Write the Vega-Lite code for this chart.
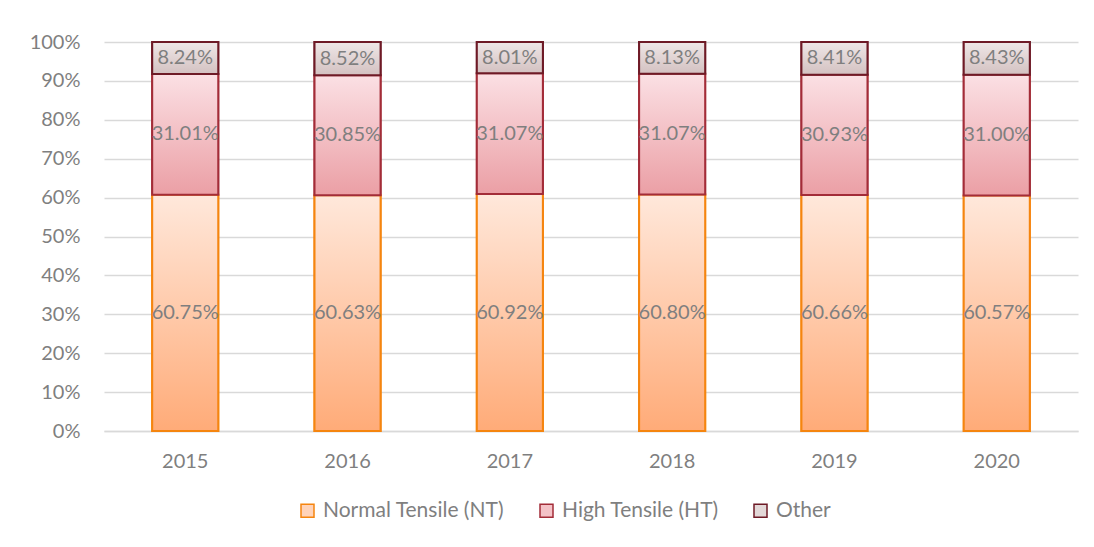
{
  "$schema": "https://vega.github.io/schema/vega-lite/v6.json",
  "width": 974,
  "height": 389,
  "autosize": "none",
  "padding": {"left": 104, "top": 42, "right": 16, "bottom": 116},
  "background": "white",
  "config": {
    "view": {"stroke": null},
    "font": "Lato",
    "axis": {"labelFont": "Lato", "labelColor": "#7f7f7f", "labelFontSize": 20, "title": null, "ticks": false}
  },
  "data": {
    "values": [
      {"year": "2015", "type": "Normal Tensile (NT)", "value": 0.6075},
      {"year": "2015", "type": "High Tensile (HT)", "value": 0.3101},
      {"year": "2015", "type": "Other", "value": 0.0824},
      {"year": "2016", "type": "Normal Tensile (NT)", "value": 0.6063},
      {"year": "2016", "type": "High Tensile (HT)", "value": 0.3085},
      {"year": "2016", "type": "Other", "value": 0.0852},
      {"year": "2017", "type": "Normal Tensile (NT)", "value": 0.6092},
      {"year": "2017", "type": "High Tensile (HT)", "value": 0.3107},
      {"year": "2017", "type": "Other", "value": 0.0801},
      {"year": "2018", "type": "Normal Tensile (NT)", "value": 0.6080},
      {"year": "2018", "type": "High Tensile (HT)", "value": 0.3107},
      {"year": "2018", "type": "Other", "value": 0.0813},
      {"year": "2019", "type": "Normal Tensile (NT)", "value": 0.6066},
      {"year": "2019", "type": "High Tensile (HT)", "value": 0.3093},
      {"year": "2019", "type": "Other", "value": 0.0841},
      {"year": "2020", "type": "Normal Tensile (NT)", "value": 0.6057},
      {"year": "2020", "type": "High Tensile (HT)", "value": 0.3100},
      {"year": "2020", "type": "Other", "value": 0.0843}
    ]
  },
  "transform": [
    {"stack": "value", "groupby": ["year"], "offset": "normalize", "sort": [{"field": "value", "order": "descending"}], "as": ["v0", "v1"]}
  ],
  "encoding": {
    "x": {
      "field": "year", "type": "ordinal",
      "scale": {"paddingInner": 0.593, "paddingOuter": 0.297},
      "axis": {"labelAngle": 0, "domain": true, "domainColor": "#d9d9d9", "domainWidth": 1.5, "labelPadding": 20, "grid": false}
    }
  },
  "layer": [
    {
      "mark": {"type": "bar", "strokeWidth": 2},
      "encoding": {
        "y": {
          "field": "v1", "type": "quantitative",
          "scale": {"domain": [0, 1], "nice": false},
          "axis": {"format": ".0%", "values": [0, 0.1, 0.2, 0.3, 0.4, 0.5, 0.6, 0.7, 0.8, 0.9, 1], "domain": false, "labelPadding": 24, "grid": true, "gridColor": "#d9d9d9", "gridWidth": 1.5}
        },
        "y2": {"field": "v0"},
        "fill": {
          "field": "type", "type": "nominal",
          "sort": ["Normal Tensile (NT)", "High Tensile (HT)", "Other"],
          "scale": {"domain": ["Normal Tensile (NT)", "High Tensile (HT)", "Other"], "range": ["#ffd3b9", "#f4c2c7", "#e3d8d8"]},
          "legend": {
            "orient": "none", "legendX": 193, "legendY": 458, "direction": "horizontal", "title": null,
            "symbolType": "square", "symbolSize": 169, "symbolStrokeWidth": 1.5, "labelLimit": 400,
            "labelFont": "Lato", "labelFontSize": 21, "labelColor": "#7f7f7f", "columnPadding": 31, "labelOffset": 5
          }
        },
        "stroke": {
          "field": "type", "type": "nominal",
          "sort": ["Normal Tensile (NT)", "High Tensile (HT)", "Other"],
          "scale": {"domain": ["Normal Tensile (NT)", "High Tensile (HT)", "Other"], "range": ["#f5850f", "#a32c38", "#6e1a26"]},
          "legend": {
            "orient": "none", "legendX": 193, "legendY": 458, "direction": "horizontal", "title": null,
            "symbolType": "square", "symbolSize": 169, "symbolStrokeWidth": 1.5, "labelLimit": 400,
            "labelFont": "Lato", "labelFontSize": 21, "labelColor": "#7f7f7f", "columnPadding": 31, "labelOffset": 5
          }
        }
      }
    },
    {
      "transform": [{"filter": "datum.type === 'Normal Tensile (NT)'"}],
      "mark": {"type": "bar", "strokeWidth": 2, "stroke": "#f5850f",
        "fill": {"gradient": "linear", "x1": 0, "y1": 0, "x2": 0, "y2": 1, "stops": [{"offset": 0, "color": "#ffe8db"}, {"offset": 1, "color": "#ffab78"}]}},
      "encoding": {
        "y": {
          "field": "v1", "type": "quantitative",
          "scale": {"domain": [0, 1], "nice": false},
          "axis": {"format": ".0%", "values": [0, 0.1, 0.2, 0.3, 0.4, 0.5, 0.6, 0.7, 0.8, 0.9, 1], "domain": false, "labelPadding": 24, "grid": true, "gridColor": "#d9d9d9", "gridWidth": 1.5}
        },
        "y2": {"field": "v0"}
      }
    },
    {
      "transform": [{"filter": "datum.type === 'High Tensile (HT)'"}],
      "mark": {"type": "bar", "strokeWidth": 2, "stroke": "#a32c38",
        "fill": {"gradient": "linear", "x1": 0, "y1": 0, "x2": 0, "y2": 1, "stops": [{"offset": 0, "color": "#fbe0e4"}, {"offset": 1, "color": "#eb9fa5"}]}},
      "encoding": {
        "y": {
          "field": "v1", "type": "quantitative",
          "scale": {"domain": [0, 1], "nice": false},
          "axis": {"format": ".0%", "values": [0, 0.1, 0.2, 0.3, 0.4, 0.5, 0.6, 0.7, 0.8, 0.9, 1], "domain": false, "labelPadding": 24, "grid": true, "gridColor": "#d9d9d9", "gridWidth": 1.5}
        },
        "y2": {"field": "v0"}
      }
    },
    {
      "transform": [{"filter": "datum.type === 'Other'"}],
      "mark": {"type": "bar", "strokeWidth": 2, "stroke": "#6e1a26",
        "fill": {"gradient": "linear", "x1": 0, "y1": 0, "x2": 0, "y2": 1, "stops": [{"offset": 0, "color": "#efe7e7"}, {"offset": 1, "color": "#d3c1c1"}]}},
      "encoding": {
        "y": {
          "field": "v1", "type": "quantitative",
          "scale": {"domain": [0, 1], "nice": false},
          "axis": {"format": ".0%", "values": [0, 0.1, 0.2, 0.3, 0.4, 0.5, 0.6, 0.7, 0.8, 0.9, 1], "domain": false, "labelPadding": 24, "grid": true, "gridColor": "#d9d9d9", "gridWidth": 1.5}
        },
        "y2": {"field": "v0"}
      }
    },
    {
      "transform": [
        {"fold": ["v0", "v1"], "as": ["edge", "pos"]},
        {"aggregate": [{"op": "mean", "field": "pos", "as": "mid"}, {"op": "max", "field": "value", "as": "value"}], "groupby": ["year", "type"]}
      ],
      "mark": {"type": "text", "font": "Lato", "fontSize": 20, "color": "#7f7f7f", "align": "center", "baseline": "middle"},
      "encoding": {
        "y": {
          "field": "mid", "type": "quantitative",
          "scale": {"domain": [0, 1], "nice": false},
          "axis": {"format": ".0%", "values": [0, 0.1, 0.2, 0.3, 0.4, 0.5, 0.6, 0.7, 0.8, 0.9, 1], "domain": false, "labelPadding": 24, "grid": true, "gridColor": "#d9d9d9", "gridWidth": 1.5}
        },
        "text": {"field": "value", "type": "quantitative", "format": ".2%"}
      }
    }
  ]
}
